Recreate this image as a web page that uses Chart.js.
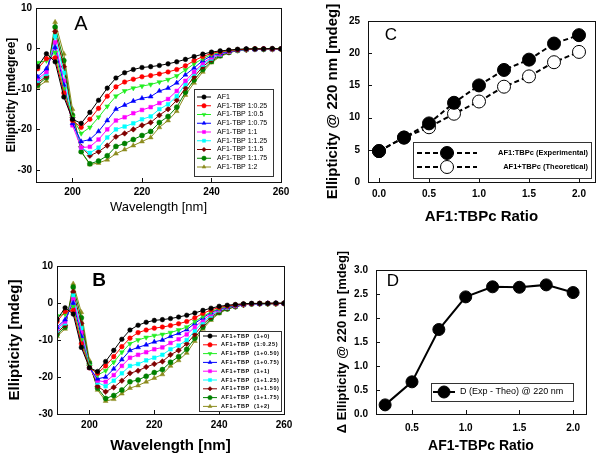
<!DOCTYPE html>
<html><head><meta charset="utf-8">
<script src="https://cdn.jsdelivr.net/npm/chart.js@4/dist/chart.umd.min.js"></script>
<style>
html,body{margin:0;padding:0;background:#fff;}
#wrap{position:relative;width:603px;height:458px;overflow:hidden;}
canvas{position:absolute;left:0;top:0;}
</style></head><body><div id="wrap">
<canvas id="cA" width="603" height="458"></canvas>
<canvas id="cB" width="603" height="458"></canvas>
<canvas id="cC" width="603" height="458"></canvas>
<canvas id="cD" width="603" height="458"></canvas>
</div>
<script>
// ---------- DATA ----------
const wavelengths = [190,192.5,195,197.5,200,202.5,205,207.5,210,212.5,215,217.5,220,222.5,225,227.5,230,232.5,235,237.5,240,242.5,245,247.5,250,252.5,255,257.5,260];

const aLabels = ["AF1","AF1-TBP 1:0.25","AF1-TBP 1:0.5","AF1-TBP 1:0.75","AF1-TBP 1:1","AF1-TBP 1:1.25","AF1-TBP 1:1.5","AF1-TBP 1:1.75","AF1-TBP 1:2"];
const aAF1  = [-4.5,-1.3,-3.3,-12,-17.5,-18.5,-15.8,-12.8,-9.8,-7.3,-6,-5.2,-4.7,-4.5,-4.2,-3.8,-3.3,-2.7,-2,-1.4,-0.9,-0.6,-0.4,-0.2,-0.1,-0.1,-0.1,0,-0.1];
const aR025 = [-5,-2.5,-2.3,-11,-17.8,-19.5,-17.5,-14.8,-11.8,-9.5,-8.3,-7.6,-7,-6.7,-6.3,-5.8,-5.2,-4.3,-3,-2,-1.2,-0.8,-0.5,-0.3,-0.2,-0.1,-0.1,-0.1,-0.1];
const aR05  = [-3.5,-3,-1,-10,-17,-21,-19.5,-17,-14.3,-11.8,-10.5,-9.8,-9.3,-8.9,-8.3,-7.7,-6.8,-5.3,-3.8,-2.5,-1.5,-1,-0.6,-0.3,-0.2,-0.1,-0.1,-0.1,-0.1];
const aR075 = [-7,-5,0.3,-9,-18.5,-23,-22.5,-20.5,-17.8,-15,-14,-13,-12.3,-11.9,-10.5,-9.8,-8.5,-6.5,-4.8,-3,-1.8,-1.2,-0.7,-0.4,-0.2,-0.2,-0.1,-0.1,-0.1];
const aR1   = [-7.5,-5.8,1.5,-8,-19,-24.5,-24.3,-22.5,-20,-17.8,-17,-16,-15.2,-14.5,-13.5,-12.5,-10.5,-8,-5.8,-3.6,-2.2,-1.4,-0.8,-0.4,-0.2,-0.2,-0.1,-0.2,-0.1];
const aR125 = [-8,-6.3,3,-6,-17.5,-24.5,-25.8,-24.5,-22,-20,-19.3,-18.5,-17.5,-16.8,-15,-13.8,-11.8,-8.8,-6.2,-4,-2.5,-1.5,-0.8,-0.4,-0.3,-0.2,-0.2,-0.2,-0.1];
const aR15  = [-8.5,-6.8,4.2,-4.5,-17,-24.3,-26.5,-25.5,-24,-21.8,-21,-20,-19,-18.3,-16.5,-15,-12.8,-9.8,-7,-4.5,-2.8,-1.6,-0.9,-0.4,-0.3,-0.2,-0.2,-0.2,-0.1];
const aR175 = [-9,-7.2,5.3,-3,-16.5,-25.5,-28.5,-27.8,-26.5,-24.2,-23.5,-22.5,-21.5,-20.5,-18.3,-16.8,-14.5,-10.8,-7.8,-5.2,-3.2,-1.8,-1,-0.5,-0.3,-0.2,-0.2,-0.2,-0.1];
const aR2   = [-9.5,-8,6.5,-1.3,-15,-25.5,-28.7,-28.3,-27.5,-26,-25,-24,-23,-22,-19.5,-17.8,-15.5,-11.5,-8.5,-5.8,-3.5,-2,-1.1,-0.5,-0.3,-0.2,-0.2,-0.2,-0.1];

const bLabels = ["AF1+TBP  (1+0)","AF1+TBP  (1:0.25)","AF1+TBP  (1+0.50)","AF1+TBP  (1+0.75)","AF1+TBP  (1+1)","AF1+TBP  (1+1.25)","AF1+TBP  (1+1.50)","AF1+TBP  (1+1.75)","AF1+TBP  (1+2)"];
const bR0   = [-4.5,-1.3,-3,-12,-17.5,-18.5,-15.8,-12.8,-9.8,-7.3,-6,-5.2,-4.7,-4.5,-4.2,-3.8,-3.3,-2.7,-2,-1.4,-0.9,-0.6,-0.4,-0.2,-0.1,-0.1,-0.1,0,-0.1];
const bR025 = [-5,-2.3,-2,-11,-17.5,-19,-17,-14.5,-11.8,-9.5,-8,-7.3,-6.8,-6.5,-6.1,-5.6,-5,-4,-2.8,-1.9,-1.2,-0.8,-0.5,-0.3,-0.2,-0.1,-0.1,-0.1,-0.1];
const bR05  = [-3.5,-3,-1,-10,-17,-19.5,-18.3,-16,-13.3,-11,-10,-9.3,-8.8,-8.5,-8,-7.3,-6.5,-5,-3.6,-2.4,-1.5,-1,-0.6,-0.3,-0.2,-0.1,-0.1,-0.1,-0.1];
const bR075 = [-6.5,-4.5,0,-9,-17.5,-20.5,-20,-17.8,-15.3,-12.8,-12,-11.3,-10.5,-10,-9,-8.2,-7.2,-5.5,-4,-2.6,-1.6,-1.1,-0.7,-0.4,-0.2,-0.2,-0.1,-0.1,-0.1];
const bR1   = [-7,-5,1,-8,-17.5,-21,-21.3,-19.5,-17,-14.8,-14,-13.3,-12.5,-12,-10.8,-9.8,-8.5,-6.5,-4.6,-3,-1.8,-1.2,-0.8,-0.4,-0.2,-0.2,-0.1,-0.1,-0.1];
const bR125 = [-7.5,-5.5,2,-6.8,-17,-21.5,-22.5,-21,-19,-17,-16.5,-15.5,-14.8,-14,-12.5,-11.5,-10,-7.5,-5.2,-3.4,-2,-1.3,-0.8,-0.4,-0.3,-0.2,-0.2,-0.1,-0.1];
const bR15  = [-8,-6,3,-5.5,-16.8,-22.5,-24,-22.8,-21,-19,-18.3,-17.3,-16.5,-15.8,-14,-12.8,-11,-8.5,-5.8,-3.8,-2.3,-1.4,-0.9,-0.5,-0.3,-0.2,-0.2,-0.2,-0.1];
const bR175 = [-8.5,-6.5,4.3,-4,-16.3,-23,-25.8,-25,-23.5,-21.3,-20.8,-19.8,-18.8,-18,-16,-14.5,-12.5,-9.5,-6.5,-4.2,-2.6,-1.6,-1,-0.5,-0.3,-0.2,-0.2,-0.2,-0.1];
const bR2   = [-9,-7,5.2,-2.5,-15.5,-23.5,-26.5,-26,-24.5,-23,-22.3,-21.3,-20.3,-19.3,-17,-15.5,-13.5,-10.3,-7,-4.6,-2.8,-1.7,-1,-0.5,-0.3,-0.2,-0.2,-0.2,-0.1];

const cRatios = [0,0.25,0.5,0.75,1.0,1.25,1.5,1.75,2.0];
const cExperimental = [4.8,6.9,9.1,12.3,15.0,17.4,19.0,21.5,22.8];
const cTheoretical  = [4.8,6.9,8.5,10.6,12.5,14.8,16.4,18.6,20.2];
const cLabels = ["AF1:TBPc (Experimental)","AF1+TBPc (Theoretical)"];

const dRatios = [0.25,0.5,0.75,1.0,1.25,1.5,1.75,2.0];
const dDelta  = [0.19,0.67,1.76,2.44,2.65,2.64,2.69,2.53];
const dLabel  = "D (Exp - Theo) @ 220 nm";

const abXTicks = [200,220,240,260];
const abYTicks = [-30,-20,-10,0,10];
const cXTicks = [0,0.5,1.0,1.5,2.0];
const cYTicks = [0,5,10,15,20,25];
const dXTicks = [0.5,1.0,1.5,2.0];
const dYTicks = [0,0.5,1.0,1.5,2.0,2.5,3.0];

// ---------- STYLES ----------
const seriesColors = ['#000000','#ff0000','#22ee22','#0000ff','#ff00ff','#00ffff','#800000','#008000','#8c8c1e'];
const seriesStyles = ['circle','circle','triangle','triangle','rect','rect','rectRot','circle','triangle'];
const seriesRot    = [0,0,180,0,0,0,0,0,0];
const seriesRad    = [2.3,2.3,2.8,2.8,2.6,2.6,2.8,2.5,2.8];

const FF = "'Liberation Sans', Arial, sans-serif";

// ---------- PLUGINS ----------
const framePlugin = {
  id:'frame',
  afterDraw(chart, args, o){
    const {ctx, chartArea:a} = chart;
    ctx.save();
    ctx.strokeStyle = '#111'; ctx.lineWidth = 1;
    ctx.strokeRect(Math.round(a.left)+0.5, Math.round(a.top)+0.5, Math.round(a.right-a.left), Math.round(a.bottom-a.top));
    const tl = o.tick || 4;
    const xs = chart.scales.x, ys = chart.scales.y;
    ctx.beginPath();
    xs.ticks.forEach(t=>{ const px = Math.round(xs.getPixelForValue(t.value))+0.5; ctx.moveTo(px, a.bottom); ctx.lineTo(px, a.bottom-tl); });
    ys.ticks.forEach(t=>{ const py = Math.round(ys.getPixelForValue(t.value))+0.5; ctx.moveTo(a.left, py); ctx.lineTo(a.left+tl, py); });
    ctx.stroke();
    if (o.letter){
      ctx.fillStyle='#000'; ctx.font=o.letter.font; ctx.textAlign='center'; ctx.textBaseline='middle';
      ctx.fillText(o.letter.text, o.letter.x, o.letter.y);
    }
    ctx.restore();
  }
};
const boxLegendPlugin = {
  id:'boxLegend',
  afterDraw(chart, args, o){
    if (!o || !o.box) return;
    const ctx = chart.ctx;
    ctx.save();
    const [bx,by,bw,bh] = o.box;
    ctx.fillStyle='#fff'; ctx.fillRect(bx,by,bw,bh);
    ctx.strokeStyle='#333'; ctx.lineWidth=1; ctx.strokeRect(bx+0.5,by+0.5,bw,bh);
    chart.data.datasets.forEach((ds,i)=>{
      const y = o.y0 + i*o.dy;
      ctx.strokeStyle = ds.borderColor; ctx.lineWidth = ds.borderWidth;
      ctx.setLineDash(ds.borderDash || []);
      ctx.beginPath(); ctx.moveTo(o.x1,y); ctx.lineTo(o.x2,y); ctx.stroke();
      ctx.setLineDash([]);
      ctx.fillStyle = ds.pointBackgroundColor; ctx.strokeStyle = ds.pointBorderColor;
      ctx.lineWidth = ds.pointBorderWidth;
      Chart.helpers.drawPoint(ctx, {pointStyle:ds.pointStyle, rotation:ds.pointRotation||0, radius:o.r || ds.pointRadius, borderWidth:ds.pointBorderWidth}, (o.x1+o.x2)/2, y);
      ctx.fillStyle='#000'; ctx.font=o.font; ctx.textBaseline='middle'; ctx.textAlign=o.align||'left';
      if (o.spacing) ctx.letterSpacing = o.spacing;
      ctx.fillText(ds.label, o.tx, y);
      ctx.letterSpacing = '0px';
    });
    ctx.restore();
  }
};
Chart.register(framePlugin, boxLegendPlugin);

function ptsFrom(xs, ys){ return xs.map((x,i)=>({x:x, y:ys[i]})); }

function spectrumSets(labels, arrays){
  return arrays.map((arr,i)=>({
    label: labels[i], data: ptsFrom(wavelengths, arr),
    borderColor: seriesColors[i], borderWidth: 1,
    pointStyle: seriesStyles[i], pointRotation: seriesRot[i], pointRadius: seriesRad[i],
    pointBackgroundColor: seriesColors[i], pointBorderColor: seriesColors[i], pointBorderWidth: 0.5,
    tension: 0, fill:false
  }));
}

function axis(opts){
  const s = {
    type:'linear', min:opts.min, max:opts.max,
    afterBuildTicks: sc => { sc.ticks = opts.ticks.map(v=>({value:v})); },
    grid:{display:false, drawTicks:false}, border:{display:false},
    ticks:{ color:'#000', font:{family:FF, size:opts.tickSize||10, weight:'bold'}, padding:opts.pad, autoSkip:false, maxRotation:0, minRotation:0,
      callback: opts.fmt ? (v=>opts.fmt(v)) : (v=>String(v)) },
    title:{ display:true, text:opts.title, color:'#000', font:{family:FF, size:opts.tsize, weight:opts.tweight||'bold', lineHeight:1.2}, padding:opts.tpad },
    afterFit: sc => {
      if (opts.w !== undefined) sc.width = opts.w;
      if (opts.h !== undefined) sc.height = opts.h;
      sc.paddingLeft = 0; sc.paddingRight = 0; sc.paddingTop = 0; sc.paddingBottom = 0;
    }
  };
  return s;
}

function baseOpts(padding, x, y, plugins){
  return {
    responsive:false, animation:false, devicePixelRatio:1,
    layout:{padding:padding},
    scales:{x:x, y:y},
    plugins: Object.assign({legend:{display:false}, tooltip:{enabled:false}}, plugins),
    elements:{line:{tension:0}}
  };
}

// ---------- PANEL A ----------
new Chart(document.getElementById('cA'), {
  type:'line',
  data:{datasets: spectrumSets(aLabels, [aAF1,aR025,aR05,aR075,aR1,aR125,aR15,aR175,aR2])},
  options: baseOpts({left:0, top:8, right:322, bottom:243},
    axis({min:189.5, max:260, ticks:abXTicks, pad:4, title:'Wavelength [nm]', tsize:13, tweight:'normal', tpad:{top:0,bottom:0}, h:33}),
    axis({min:-33, max:10, ticks:abYTicks, pad:4, title:'Ellipticity [mdegree]', tsize:12, tpad:{top:4,bottom:0}, w:36}),
    {frame:{letter:{text:'A', x:81, y:24, font:`20px ${FF}`}},
     boxLegend:{box:[194,89,79,87], y0:97, dy:8.75, x1:197, x2:211, tx:217, r:2.2, font:`7px ${FF}`}})
});

// ---------- PANEL B ----------
new Chart(document.getElementById('cB'), {
  type:'line',
  data:{datasets: spectrumSets(bLabels, [bR0,bR025,bR05,bR075,bR1,bR125,bR15,bR175,bR2])},
  options: baseOpts({left:0, top:266, right:319, bottom:0},
    axis({min:190, max:260, ticks:abXTicks, pad:5, title:'Wavelength [nm]', tsize:15, tpad:{top:0,bottom:3}, h:44}),
    axis({min:-30, max:10, ticks:abYTicks, pad:4, title:'Ellipticity [mdeg]', tsize:15, tpad:{top:6,bottom:0}, w:57}),
    {frame:{letter:{text:'B', x:99, y:281, font:`bold 19px ${FF}`}},
     boxLegend:{box:[199,331,82,80], y0:336, dy:8.8, x1:203, x2:217, tx:221, r:2.2, font:`bold 5.5px ${FF}`, spacing:'0.6px'}})
});

// ---------- PANEL C ----------
new Chart(document.getElementById('cC'), {
  type:'line',
  data:{datasets:[
    {label:cLabels[0], data:ptsFrom(cRatios,cExperimental), borderColor:'#000', borderWidth:2, borderDash:[5,3],
     pointStyle:'circle', pointRadius:6.5, pointBackgroundColor:'#000', pointBorderColor:'#000', pointBorderWidth:1},
    {label:cLabels[1], data:ptsFrom(cRatios,cTheoretical), borderColor:'#000', borderWidth:2, borderDash:[5,3],
     pointStyle:'circle', pointRadius:6.5, pointBackgroundColor:'#fff', pointBorderColor:'#000', pointBorderWidth:1}
  ]},
  options: baseOpts({left:300, top:21, right:8, bottom:229},
    axis({min:-0.11, max:2.16, ticks:cXTicks, pad:6, fmt:v=>v.toFixed(1), title:'AF1:TBPc Ratio', tsize:15, tpad:{top:0,bottom:3}, h:47}),
    axis({min:0, max:25, ticks:cYTicks, pad:8, title:'Ellipticity @ 220 nm [mdeg]', tsize:15, tpad:{top:24,bottom:0}, w:68}),
    {frame:{letter:{text:'C', x:391, y:35, font:`17px ${FF}`}},
     boxLegend:{box:[413,142,178,36], y0:153, dy:14, x1:417, x2:477, tx:588, align:'right', r:6.5, font:`bold 7.5px ${FF}`}})
});

// ---------- PANEL D ----------
new Chart(document.getElementById('cD'), {
  type:'line',
  data:{datasets:[
    {label:dLabel, data:ptsFrom(dRatios,dDelta), borderColor:'#000', borderWidth:2,
     pointStyle:'circle', pointRadius:6, pointBackgroundColor:'#000', pointBorderColor:'#000', pointBorderWidth:1}
  ]},
  options: baseOpts({left:300, top:270, right:17, bottom:0},
    axis({min:0.165, max:2.12, ticks:dXTicks, pad:8, fmt:v=>v.toFixed(1), title:'AF1-TBPc Ratio', tsize:14, tpad:{top:0,bottom:3}, h:44}),
    axis({min:0, max:3.0, ticks:dYTicks, pad:8, fmt:v=>v.toFixed(1), title:'\u0394 Ellipticity @ 220 nm [mdeg]', tsize:13, tpad:{top:35,bottom:0}, w:76}),
    {frame:{letter:{text:'D', x:393, y:281, font:`17px ${FF}`}},
     boxLegend:{box:[431,383,142,18], y0:392, dy:0, x1:433, x2:455, tx:460, r:6, font:`9px ${FF}`}})
});
</script>
</body></html>
